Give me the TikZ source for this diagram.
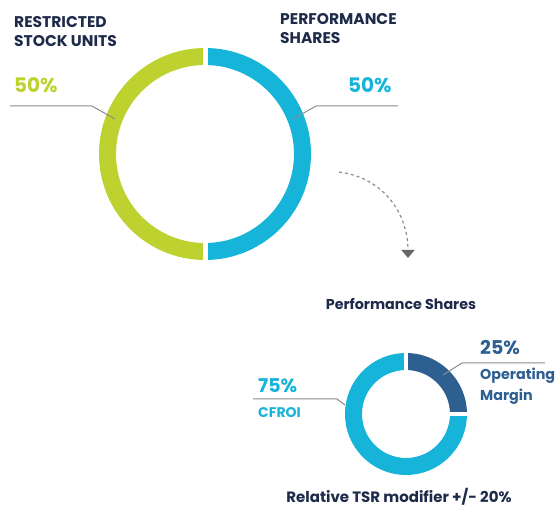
\documentclass[tikz,border=0pt]{standalone}
\usepackage{fontspec}
\setmainfont{Poppins}
\usetikzlibrary{arrows.meta}
\definecolor{navy}{HTML}{1E2A4A}
\definecolor{rsugreen}{HTML}{BDD12F}
\definecolor{psblue}{HTML}{16B4D8}
\definecolor{omblue}{HTML}{2D5F91}
\definecolor{leadgray}{HTML}{8C8C8C}
\begin{document}
\begin{tikzpicture}[x=1pt,y=-1pt,
    ring/.style={line width=17pt},
    gap/.style={white,line width=5pt},
    leader/.style={leadgray,line width=1pt},
    title/.style={navy,font=\bfseries\fontsize{15.5}{18.5}\selectfont,inner sep=0pt,align=left},
    pct/.style={font=\bfseries\fontsize{20}{24}\selectfont,inner sep=0pt}]
  \useasboundingbox (0,0) rectangle (558,508);
  \coordinate (big) at (205,154);
  \coordinate (small) at (406,414);
  \draw[ring,rsugreen] (big) ++(90:97.5) arc[start angle=90,end angle=270,radius=97.5];
  \draw[ring,psblue] (big) ++(-90:97.5) arc[start angle=-90,end angle=90,radius=97.5];
  \draw[gap] (big) ++(0,-110) -- ++(0,220);
  \draw[ring,omblue] (small) ++(-90:52.5) arc[start angle=-90,end angle=0,radius=52.5];
  \draw[ring,psblue] (small) ++(0:52.5) arc[start angle=0,end angle=270,radius=52.5];
  \begin{scope}[gap,line width=3.5pt]
    \draw (small) -- ++(0,-65);
    \draw (small) -- ++(65,0);
  \end{scope}
  \node[title,anchor=north west] (rsu) at (14,16.5) {RESTRICTED\\STOCK UNITS};
  \node[title,anchor=north west] (ps) at (280,13.3) {PERFORMANCE\\SHARES};
  \node[pct,rsugreen,anchor=west] (rsupct) at (14,85) {50\%};
  \node[pct,psblue,anchor=west] (pspct) at (348,85) {50\%};
  \coordinate (rsuA) at (10,106);
  \coordinate (rsuB) at (92,106);
  \coordinate (rsuC) at (115,119);
  \coordinate (psA) at (398,106);
  \coordinate (psB) at (316,106);
  \coordinate (psC) at (293,119);
  \draw[leader] (rsuA) -- (rsuB) -- (rsuC);
  \draw[leader] (psA) -- (psB) -- (psC);
  \coordinate (flowA) at (339,172);
  \coordinate (flowB) at (408,258);
  \draw[leadgray,line width=1.2pt,dash pattern=on 3pt off 3pt,
        -{Triangle[width=13pt,length=8pt,color=black!60]}]
    (flowA) .. controls (385,178) and (408,215) .. (flowB);
  \node[navy,font=\bfseries\fontsize{14.3}{17}\selectfont,inner sep=0pt,anchor=base] (pstitle) at (401,310) {Performance Shares};
  \node[pct,omblue,font=\bfseries\fontsize{19}{22}\selectfont,anchor=west] (ompct) at (480,348) {25\%};
  \node[omblue,font=\bfseries\fontsize{14.3}{20.5}\selectfont,inner sep=0pt,anchor=north west,align=left] (om) at (480,368) {Operating\\Margin};
  \node[pct,psblue,font=\bfseries\fontsize{19}{22}\selectfont,anchor=west] (cfpct) at (258,386) {75\%};
  \node[psblue,font=\bfseries\fontsize{14}{17}\selectfont,inner sep=0pt,anchor=west] (cf) at (258,412.5) {CFROI};
  \coordinate (omA) at (545,363);
  \coordinate (omB) at (462,363);
  \coordinate (omC) at (443,375);
  \coordinate (cfA) at (253,399);
  \coordinate (cfB) at (337,399);
  \coordinate (cfC) at (345,405);
  \draw[leader] (omA) -- (omB) -- (omC);
  \draw[leader] (cfA) -- (cfB) -- (cfC);
  \node[navy,font=\bfseries\fontsize{15}{18}\selectfont,inner sep=0pt,anchor=base] (tsr) at (399,502) {Relative TSR modifier +/- 20\%};
\end{tikzpicture}
\end{document}
